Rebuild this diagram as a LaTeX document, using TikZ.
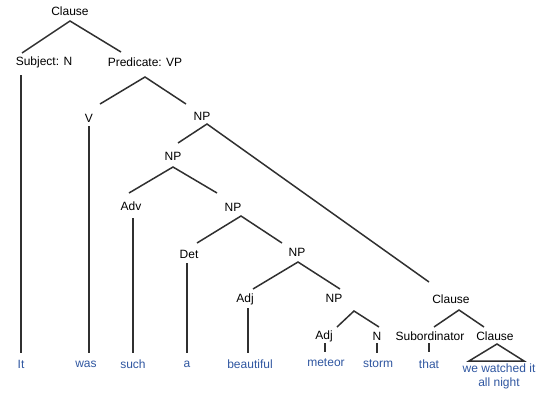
\documentclass[tikz,border=0pt]{standalone}
\usepackage{fontspec}
\setmainfont{Liberation Sans}
\usepackage{tikz}
\usepackage{xcolor}
\definecolor{word-blue}{HTML}{2F56A0}
\definecolor{branch-grey}{HTML}{303030}

\begin{document}
\begin{tikzpicture}
[
x=1pt, y=-1pt,
cat-a/.style={inner sep=0pt, font=\fontsize{12}{14}\selectfont, text=black},
word-a/.style={cat-a, text=word-blue, align=center},
branch/.style={draw=branch-grey, line width=1.5pt}
]
\useasboundingbox (0,0) rectangle (544,399);
\node (clause)    [cat-a]  at (70,11)   {Clause};
\node (subj)      [cat-a]  at (44,62)   {Subject: N};
\node (pred)      [cat-a]  at (145,62)  {Predicate: VP};
\node (v)         [cat-a]  at (89,118)  {V};
\node (np-a)      [cat-a]  at (202,116) {NP};
\node (np-b)      [cat-a]  at (173,156) {NP};
\node (adv)       [cat-a]  at (131,206) {Adv};
\node (np-c)      [cat-a]  at (233,207) {NP};
\node (det)       [cat-a]  at (189,254) {Det};
\node (np-d)      [cat-a]  at (297,252) {NP};
\node (adj-a)     [cat-a]  at (245,299) {Adj};
\node (np-e)      [cat-a]  at (334,298) {NP};
\node (adj-b)     [cat-a]  at (324,336) {Adj};
\node (n)         [cat-a]  at (377,336) {N};
\node (clause-b)  [cat-a]  at (451,299) {Clause};
\node (sub)       [cat-a]  at (430,336) {Subordinator};
\node (clause-c)  [cat-a]  at (495,336) {Clause};
\node (w-it)      [word-a] at (21,364)  {It};
\node (w-was)     [word-a] at (86,364)  {was};
\node (w-such)    [word-a] at (133,364) {such};
\node (w-a)       [word-a] at (187,364) {a};
\node (w-beau)    [word-a] at (250,364) {beautiful};
\node (w-meteor)  [word-a] at (326,363) {meteor};
\node (w-storm)   [word-a] at (378,364) {storm};
\node (w-that)    [word-a] at (429,364) {that};
\node (w-rest)    [word-a] at (499,376) {we watched it\\all night};
\draw [branch] ([shift={(-22,-9)}]subj.center) -- ([shift={(0,10)}]clause.center) -- ([shift={(-24,-10)}]pred.center);
\draw [branch] ([shift={(-23,13)}]subj.center) -- ([shift={(0,-11)}]w-it.center);
\draw [branch] ([shift={(11,-14)}]v.center) -- ([shift={(0,15)}]pred.center) -- ([shift={(-16,-12)}]np-a.center);
\draw [branch] ([shift={(0,8)}]v.center) -- ([shift={(3,-11)}]w-was.center);
\draw [branch] ([shift={(5,-13)}]np-b.center) -- ([shift={(5,8)}]np-a.center) -- ([shift={(-22,-17)}]clause-b.center);
\draw [branch] ([shift={(-2,-13)}]adv.center) -- ([shift={(0,11)}]np-b.center) -- ([shift={(-16,-14)}]np-c.center);
\draw [branch] ([shift={(2,12)}]adv.center) -- ([shift={(0,-11)}]w-such.center);
\draw [branch] ([shift={(8,-11)}]det.center) -- ([shift={(8,9)}]np-c.center) -- ([shift={(-15,-9)}]np-d.center);
\draw [branch] ([shift={(-2,9)}]det.center) -- ([shift={(0,-11)}]w-a.center);
\draw [branch] ([shift={(8,-10)}]adj-a.center) -- ([shift={(1,10)}]np-d.center) -- ([shift={(6,-9)}]np-e.center);
\draw [branch] ([shift={(3,9)}]adj-a.center) -- ([shift={(-2,-11)}]w-beau.center);
\draw [branch] ([shift={(13,-9)}]adj-b.center) -- ([shift={(20,13)}]np-e.center) -- ([shift={(2,-9)}]n.center);
\draw [branch] ([shift={(1,7)}]adj-b.center) -- ([shift={(-1,-11)}]w-meteor.center);
\draw [branch] ([shift={(0,7)}]n.center) -- ([shift={(-1,-11)}]w-storm.center);
\draw [branch] ([shift={(4,-9)}]sub.center) -- ([shift={(8,11)}]clause-b.center) -- ([shift={(-11,-9)}]clause-c.center);
\draw [branch] ([shift={(-1,7)}]sub.center) -- ([shift={(0,-12)}]w-that.center);
\draw [branch] ([shift={(-30,-15)}]w-rest.center) -- ([shift={(2,8)}]clause-c.center) -- ([shift={(25,-15)}]w-rest.center) -- cycle;
\end{tikzpicture}
\end{document}
